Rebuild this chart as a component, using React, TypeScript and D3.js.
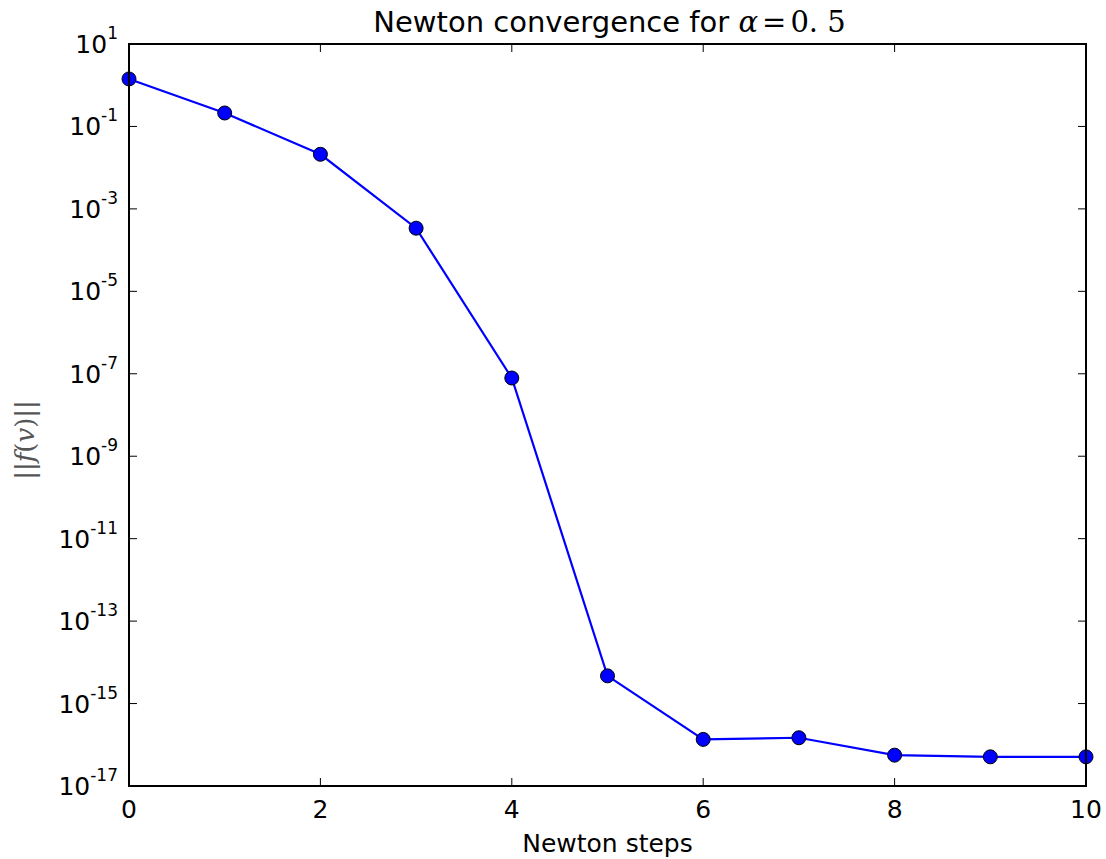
import * as d3 from "d3";

// Newton iteration residuals
const steps = [0, 1, 2, 3, 4, 5, 6, 7, 8, 9, 10];
const residuals = [
  1.42, 0.212, 0.0211, 3.4e-4, 7.9e-8, 4.7e-15, 1.35e-16, 1.48e-16, 5.6e-17, 5.1e-17, 5.1e-17,
];
const xTicks = [0, 2, 4, 6, 8, 10];
const yExponents = [1, -1, -3, -5, -7, -9, -11, -13, -15, -17];

const W = 1106;
const H = 859;
const left = 129;
const right = 1086;
const top = 44;
const bottom = 786;
const font = "DejaVu Sans";

function App() {
  const x = d3.scaleLinear().domain([0, 10]).range([left, right]);
  const y = d3.scaleLog().domain([1e-17, 1e1]).range([bottom, top]);

  const pts: [number, number][] = steps.map((s, i) => [s, residuals[i]]);
  const line = d3
    .line<[number, number]>()
    .x((d) => x(d[0]))
    .y((d) => y(d[1]));

  const tick = 8;

  return (
    <svg width={W} height={H} style={{ position: "absolute", left: 0, top: 0, background: "#fff" }}>
      {/* title */}
      <text x={(left + right) / 2 + 2} y={32} textAnchor="middle" fontFamily={font} fontSize={29} fill="#000">
        Newton convergence for{" "}
        <tspan fontFamily="DejaVu Serif" fontStyle="italic">α</tspan>
        <tspan fontFamily="DejaVu Serif" dx={4}>=</tspan>
        <tspan fontFamily="DejaVu Serif" dx={4}>0. 5</tspan>
      </text>

      {/* data */}
      <path d={line(pts) ?? ""} fill="none" stroke="#0000ff" strokeWidth={2.2} />
      {pts.map((d, i) => (
        <circle key={i} cx={x(d[0])} cy={y(d[1])} r={7} fill="#0000ff" stroke="#000" strokeWidth={1} />
      ))}

      {/* ticks, inward on all four sides */}
      {xTicks.map((t) => (
        <g key={"x" + t}>
          <line x1={x(t)} x2={x(t)} y1={bottom} y2={bottom - tick} stroke="#000" strokeWidth={1} />
          <line x1={x(t)} x2={x(t)} y1={top} y2={top + tick} stroke="#000" strokeWidth={1} />
          <text x={x(t)} y={818} textAnchor="middle" fontFamily={font} fontSize={25} fill="#000">
            {t}
          </text>
        </g>
      ))}
      {yExponents.map((e) => {
        const yy = y(Math.pow(10, e));
        return (
          <g key={"y" + e}>
            <line x1={left} x2={left + tick} y1={yy} y2={yy} stroke="#000" strokeWidth={1} />
            <line x1={right} x2={right - tick} y1={yy} y2={yy} stroke="#000" strokeWidth={1} />
            <text x={118} y={yy + 9} textAnchor="end" fontFamily={font} fontSize={25} fill="#000">
              10
              <tspan dy={-14} fontSize={17}>{e}</tspan>
            </text>
          </g>
        );
      })}

      {/* frame */}
      <rect x={left} y={top} width={right - left} height={bottom - top} fill="none" stroke="#000" strokeWidth={2} />

      {/* axis labels */}
      <text x={(left + right) / 2} y={852} textAnchor="middle" fontFamily={font} fontSize={25} fill="#000">
        Newton steps
      </text>
      <text
        transform={`translate(34, 440) rotate(-90)`}
        textAnchor="middle"
        fontFamily="DejaVu Serif"
        fontSize={26}
        fill="#555"
      >
        ||<tspan fontStyle="italic">f</tspan>(<tspan fontStyle="italic">v</tspan>)||
      </text>
    </svg>
  );
}

export default App;
